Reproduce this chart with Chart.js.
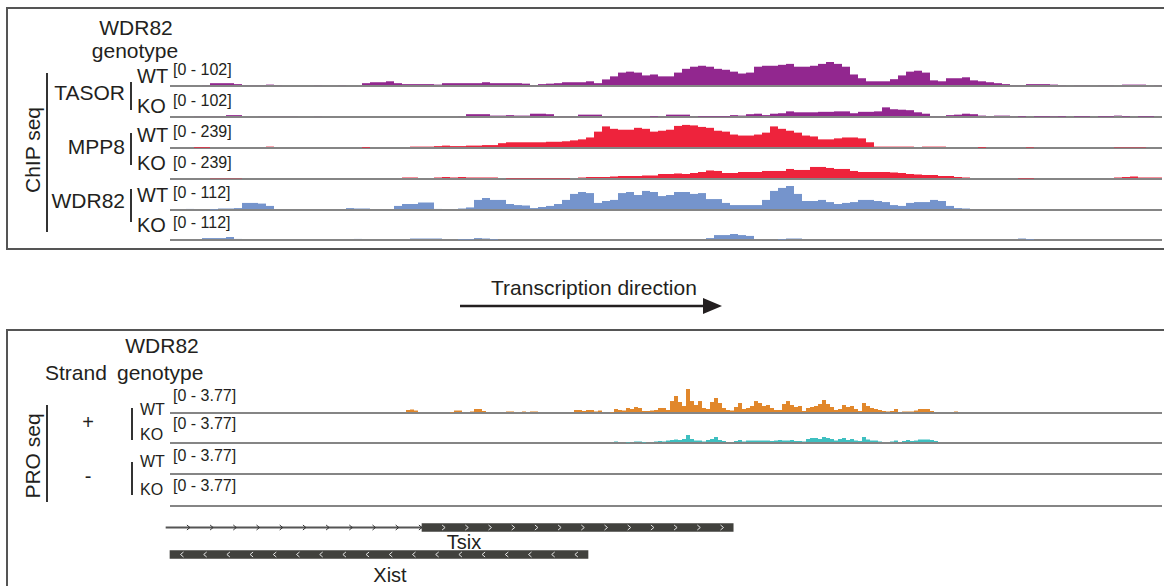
<!DOCTYPE html>
<html>
<head>
<meta charset="utf-8">
<script src="https://cdn.jsdelivr.net/npm/chart.js@4.4.1/dist/chart.umd.min.js"></script>
<style>
  body { margin: 0; width: 1164px; height: 586px; position: relative; overflow: hidden; background: #fff;
         font-family: "Liberation Sans", Arial, sans-serif; color: #231f20; }
  .t { position: absolute; white-space: nowrap; line-height: 1; }
  .c { text-align: center; width: 200px; }
  .r { text-align: right; width: 120px; }
  .box { position: absolute; border: 2px solid #555; }
  .vbar { position: absolute; width: 1.5px; background: #333; }
  canvas { position: absolute; }
</style>
</head>
<body>

<div class="box" style="left:6px;top:7px;width:1300px;height:239px"></div>
<div class="box" style="left:6px;top:329px;width:1300px;height:300px"></div>

<!-- ChIP seq labels -->
<div class="t c" style="left:36px;top:17px;font-size:21px">WDR82</div>
<div class="t c" style="left:35px;top:40px;font-size:21px">genotype</div>
<div class="t" style="left:32px;top:150px;font-size:21px;transform:translate(-50%,-50%) rotate(-90deg)">ChIP seq</div>
<div class="vbar" style="left:46px;top:73px;height:159px"></div>
<div class="t r" style="left:5px;top:82px;font-size:21px">TASOR</div>
<div class="t r" style="left:5px;top:136px;font-size:21px">MPP8</div>
<div class="t r" style="left:5px;top:190px;font-size:21px">WDR82</div>
<div class="vbar" style="left:130px;top:82px;height:28px"></div>
<div class="vbar" style="left:130px;top:133px;height:32px"></div>
<div class="vbar" style="left:130px;top:189px;height:33px"></div>
<div id="chipLabels"></div>

<!-- Transcription direction -->
<div class="t c" style="left:491px;top:277px;font-size:21px">Transcription direction</div>
<svg style="position:absolute;left:0;top:0" width="1164" height="586">
  <line x1="460" y1="306" x2="706" y2="306" stroke="#231f20" stroke-width="2.5"/>
  <polygon points="703,298 722,306 703,314" fill="#231f20"/>
</svg>

<!-- PRO seq labels -->
<div class="t c" style="left:62px;top:335px;font-size:21px">WDR82</div>
<div class="t" style="left:45px;top:362px;font-size:21px">Strand</div>
<div class="t" style="left:117px;top:362px;font-size:21px">genotype</div>
<div class="t" style="left:32px;top:456px;font-size:21px;transform:translate(-50%,-50%) rotate(-90deg)">PRO seq</div>
<div class="vbar" style="left:46px;top:405px;height:97px"></div>
<div class="t c" style="left:-12px;top:412px;font-size:20px">+</div>
<div class="t c" style="left:-12px;top:466px;font-size:20px">-</div>
<div class="vbar" style="left:131px;top:408px;height:32px"></div>
<div class="vbar" style="left:131px;top:462px;height:33px"></div>
<div id="proLabels"></div>

<!-- gene labels -->
<div class="t c" style="left:364px;top:532px;font-size:20px">Tsix</div>
<div class="t c" style="left:290px;top:565px;font-size:20px">Xist</div>

<canvas id="chip0" width="996" height="28" style="left:170px;top:60px"></canvas>
<canvas id="chip1" width="996" height="28" style="left:170px;top:91px"></canvas>
<canvas id="chip2" width="996" height="28" style="left:170px;top:122px"></canvas>
<canvas id="chip3" width="996" height="28" style="left:170px;top:153px"></canvas>
<canvas id="chip4" width="996" height="28" style="left:170px;top:184px"></canvas>
<canvas id="chip5" width="996" height="28" style="left:170px;top:214px"></canvas>
<canvas id="pro0" width="996" height="28" style="left:170px;top:387px"></canvas>
<canvas id="pro1" width="996" height="28" style="left:170px;top:417px"></canvas>
<canvas id="pro2" width="996" height="28" style="left:170px;top:448px"></canvas>
<canvas id="pro3" width="996" height="28" style="left:170px;top:480px"></canvas>
<canvas id="genes" width="1000" height="54" style="left:162px;top:514px"></canvas>

<script>
// ChIP seq signal, 124 bins across the window
const tasorWT = [
  0,0,0,0,4,12,12,12,8,4,
  4,4,6,4,0,0,0,0,4,0,
  0,4,0,0,12,16,16,20,12,8,
  8,8,8,6,12,12,12,12,12,16,
  12,12,12,12,10,4,8,10,12,16,
  16,16,20,12,28,41,57,61,57,45,
  49,41,41,57,73,82,86,82,73,69,
  61,53,57,82,86,86,90,94,82,82,
  86,94,102,94,82,49,33,20,20,20,
  29,45,61,65,57,24,20,33,33,37,
  24,20,16,12,8,4,4,8,8,8,
  6,4,0,4,4,0,4,4,0,6,
  6,6,0,4];
const tasorKO = [
  0,0,0,4,4,4,4,8,8,0,
  0,4,4,4,4,4,0,0,4,0,
  0,0,0,0,0,0,0,0,0,0,
  0,0,0,0,0,0,4,12,12,12,
  6,6,8,6,6,14,14,12,4,4,
  4,10,10,10,4,4,4,4,4,4,
  2,4,10,10,10,4,2,2,2,2,
  8,6,12,14,8,14,16,24,20,20,
  20,22,22,24,24,16,22,22,24,41,
  33,31,29,20,14,4,4,8,10,14,
  12,6,4,6,6,4,2,0,2,2,
  3,2,0,2,2,0,2,2,6,2,
  0,2,2,0];
const mpp8WT = [
  0,0,0,3,3,0,0,0,0,0,
  0,0,14,10,0,0,0,0,0,0,
  0,0,0,0,3,0,0,0,0,0,
  14,14,14,19,24,19,19,24,24,29,
  29,48,57,57,57,57,57,62,62,67,
  76,86,105,163,215,191,182,182,201,191,
  163,172,182,220,230,225,210,201,172,163,
  134,124,124,134,153,215,191,172,153,124,
  115,86,86,96,105,105,96,57,14,14,
  14,14,14,10,14,14,14,10,0,0,
  0,3,0,0,0,0,0,5,0,0,
  0,0,0,0,0,0,0,0,6,6,
  6,6,0,0];
const mpp8KO = [
  0,0,0,0,0,7,7,7,7,0,
  0,0,10,0,0,0,0,0,0,0,
  0,0,0,0,0,0,0,0,0,15,
  15,10,10,15,20,15,20,15,15,15,
  15,10,5,5,5,5,5,5,5,5,
  10,15,20,20,20,25,30,30,30,35,
  35,50,50,55,50,60,70,85,80,60,
  60,70,70,70,80,80,80,100,90,90,
  120,120,110,100,100,80,70,70,70,70,
  65,60,50,45,40,40,30,30,20,15,
  0,0,0,0,10,10,5,5,0,0,
  10,10,10,0,0,0,0,10,15,20,
  25,15,15,15];
const wdr82WT = [
  0,0,5,0,0,2,7,7,9,33,
  33,30,19,0,0,0,0,0,0,0,
  0,0,9,7,7,0,0,0,19,28,
  28,35,35,5,0,0,7,12,47,56,
  47,47,28,23,21,9,14,19,28,47,
  75,84,79,33,42,47,79,84,70,89,
  84,65,70,84,84,75,79,51,51,33,
  23,23,23,23,47,89,103,112,75,42,
  42,47,37,28,33,37,47,47,42,37,
  23,19,33,37,37,47,42,19,9,7,
  0,0,0,0,0,0,0,0,0,0,
  0,0,0,0,0,0,0,0,0,0,
  0,0,0,0];
const wdr82KO = [
  0,0,0,0,9,9,9,14,5,0,
  0,0,0,0,0,0,0,0,0,0,
  0,0,0,5,0,0,0,0,0,0,
  7,7,7,7,0,0,2,2,9,7,
  2,0,0,0,0,0,0,0,0,0,
  0,0,0,0,0,0,0,0,0,0,
  0,0,0,0,0,0,0,9,23,23,
  28,23,19,0,0,0,2,7,7,0,
  0,0,0,0,0,0,0,0,0,0,
  0,0,0,0,0,0,0,0,0,0,
  0,0,0,0,0,0,7,2,0,0,
  0,0,0,0,0,0,0,0,0,0,
  0,0,0,0];

// PRO seq signal, 248 bins across the same window
const proPlusWT = [
  0,0,0,0,0,0,0,0,0,0,
  0,0,0,0,0,0,0,0,0,0,
  0,0,0,0,0,0,0,0.16,0,0,
  0,0,0,0,0,0,0,0,0,0.16,
  0,0,0,0,0,0,0,0,0,0,
  0,0,0,0,0,0,0,0,0,0.47,
  0.55,0.39,0,0,0,0,0,0,0,0.16,
  0.08,0.39,0.39,0,0,0.24,0.63,0.63,0.31,0,
  0,0.16,0,0,0.24,0.24,0.16,0,0.24,0.16,
  0.24,0.24,0,0,0,0,0,0,0,0,
  0.16,0.47,0.47,0.31,0.47,0.47,0.24,0.39,0,0,
  0.08,0.63,0.47,0.39,0.79,0.63,0.94,0.79,0.31,0.31,
  0.39,0.47,0.79,0.79,0.47,1.88,2.67,1.73,1.10,3.77,
  1.88,1.26,1.88,0.79,0.63,1.73,2.36,1.57,0.79,0.47,
  0.39,0.94,1.57,0.63,0.79,1.10,1.88,1.57,1.10,1.26,
  0.79,0.47,0.47,1.41,1.88,1.26,0.94,1.10,0.31,0.79,
  0.94,1.10,1.41,2.04,1.41,0.94,0.47,0.63,1.26,0.94,
  1.10,0.63,0.31,1.57,1.10,0.79,0.63,0.47,0.31,0.24,
  0.31,0.63,0.16,0.24,0.24,0.24,0.39,0.63,0.63,0.63,
  0.31,0,0,0,0,0,0.24,0,0,0,
  0,0,0,0,0,0,0,0,0,0,
  0,0,0,0,0,0,0,0,0,0,
  0,0,0,0,0,0,0,0,0,0,
  0,0,0,0,0,0,0,0,0,0,
  0,0,0,0,0,0,0,0];
const proPlusKO = [
  0,0,0,0,0,0,0,0,0,0,
  0,0,0,0,0,0,0,0,0,0,
  0,0,0,0,0,0,0,0,0,0,
  0,0,0,0,0,0,0,0,0,0,
  0,0,0,0,0,0,0,0,0,0,
  0,0,0,0,0,0,0,0,0,0,
  0,0,0,0,0,0,0,0,0,0,
  0,0,0,0,0,0,0,0,0,0,
  0,0,0,0,0,0,0,0,0,0,
  0,0,0,0,0,0,0,0,0,0,
  0,0,0,0,0,0,0.16,0.16,0,0,
  0,0.24,0.16,0,0.08,0.16,0.24,0.24,0.08,0,
  0,0.24,0.31,0.24,0.39,0.47,0.55,0.47,0.63,1.26,
  0.63,0.39,0.39,0.24,0.47,0.63,0.94,0.47,0.31,0,
  0,0.31,0.47,0.24,0.39,0.39,0.39,0.39,0.39,0.39,
  0.31,0.39,0.47,0.39,0.39,0.47,0.31,0.31,0.24,0.63,
  0.79,0.79,0.63,0.94,0.79,0.63,0.39,0.63,0.79,0.47,
  0.63,0.39,0.31,0.94,0.55,0.39,0.39,0.24,0,0,
  0.24,0.39,0.16,0.31,0.47,0.31,0.39,0.55,0.55,0.55,
  0.47,0.31,0.16,0.16,0,0,0.16,0.16,0,0,
  0,0,0,0,0,0,0,0,0,0,
  0,0,0,0,0,0,0,0,0,0,
  0,0,0,0,0,0,0,0,0,0,
  0,0,0,0,0,0,0,0,0,0,
  0,0,0,0,0,0,0,0];
const proMinusWT = [];
const proMinusKO = [];

const chipGenotypes = ['WT', 'KO', 'WT', 'KO', 'WT', 'KO'];
const chipRanges = [102, 102, 239, 239, 112, 112];
const proGenotypes = ['WT', 'KO', 'WT', 'KO'];
const proRanges = [3.77, 3.77, 3.77, 3.77];

// genes, in bin units of the ChIP window
const geneNames = ['Tsix', 'Xist'];
const geneStrands = ['+', '-'];
const geneStarts = [-0.5, 0];
const exonStarts = [31.5, 0];
const geneEnds = [70.4, 52.25];

const purple = '#92278f', red = '#ee233c', blue = '#7594cc', orange = '#e1872b', teal = '#3ebfc0';
const chipSeries = [tasorWT, tasorKO, mpp8WT, mpp8KO, wdr82WT, wdr82KO];
const chipColors = [purple, purple, red, red, blue, blue];
const proSeries = [proPlusWT, proPlusKO, proMinusWT, proMinusKO];
const proColors = [orange, teal, orange, teal];

const chipLabelTops = [66, 96, 125, 153, 185, 215];
const chipRangeTops = [62, 93, 124, 155, 185, 215];
const proLabelTops = [402, 427, 454, 482];
const proRangeTops = [388, 416, 448, 478];

function addLabel(parent, text, left, top, size) {
  const d = document.createElement('div');
  d.className = 't';
  d.style.left = left + 'px';
  d.style.top = top + 'px';
  d.style.fontSize = size + 'px';
  d.textContent = text;
  parent.appendChild(d);
}

const chipLab = document.getElementById('chipLabels');
chipGenotypes.forEach((g, i) => {
  addLabel(chipLab, g, 137, chipLabelTops[i], 20);
  addLabel(chipLab, '[0 - ' + chipRanges[i] + ']', 173, chipRangeTops[i], 16);
});
const proLab = document.getElementById('proLabels');
proGenotypes.forEach((g, i) => {
  addLabel(proLab, g, 140, proLabelTops[i], 16);
  addLabel(proLab, '[0 - ' + proRanges[i] + ']', 173, proRangeTops[i], 16);
});

function makeTrack(id, values, nBins, max, color) {
  new Chart(document.getElementById(id), {
    type: 'bar',
    data: {
      labels: Array.from({ length: nBins }, (_, i) => i),
      datasets: [{ data: values, backgroundColor: color, borderWidth: 0, inflateAmount: 0,
                   barPercentage: 1, categoryPercentage: 1 }]
    },
    options: {
      responsive: false,
      animation: false,
      devicePixelRatio: 1,
      layout: { padding: { top: 2, bottom: 2, left: 0, right: 4 } },
      plugins: { legend: { display: false }, tooltip: { enabled: false } },
      scales: {
        x: { display: false },
        y: {
          min: 0, max: max,
          ticks: { display: false },
          border: { display: false },
          grid: { drawTicks: false, color: '#858585', lineWidth: 2 },
          afterBuildTicks: axis => { axis.ticks = [{ value: 0 }]; }
        }
      }
    }
  });
}

chipSeries.forEach((s, i) => makeTrack('chip' + i, s, 124, chipRanges[i], chipColors[i]));
proSeries.forEach((s, i) => makeTrack('pro' + i, s, 248, proRanges[i], proColors[i]));

// strand chevrons along each gene
const chevrons = {
  id: 'chevrons',
  afterDatasetsDraw(chart) {
    const ctx = chart.ctx;
    const xs = chart.scales.x, ys = chart.scales.y;
    const pitch = 2.9;
    geneNames.forEach((name, g) => {
      const y = ys.getPixelForValue(g);
      const dir = geneStrands[g] === '+' ? 1 : -1;
      let p = geneStarts[g] + (dir > 0 ? 2.8 : 1.5);
      ctx.save();
      ctx.lineWidth = 1;
      while (p < geneEnds[g] - 0.5) {
        const x = xs.getPixelForValue(p);
        ctx.strokeStyle = p >= exonStarts[g] ? '#e6e6e6' : '#333';
        ctx.beginPath();
        ctx.moveTo(x - 1.5 * dir, y - 2.5);
        ctx.lineTo(x + 1.5 * dir, y);
        ctx.lineTo(x - 1.5 * dir, y + 2.5);
        ctx.stroke();
        p += pitch;
      }
      ctx.restore();
    });
  }
};

new Chart(document.getElementById('genes'), {
  type: 'bar',
  data: {
    labels: geneNames,
    datasets: [
      { data: geneNames.map((n, g) => exonStarts[g] > geneStarts[g] ? [geneStarts[g], exonStarts[g]] : null),
        backgroundColor: '#555', barThickness: 1.5, grouped: false },
      { data: geneNames.map((n, g) => [exonStarts[g], geneEnds[g]]),
        backgroundColor: '#41413d', barThickness: 8, grouped: false }
    ]
  },
  options: {
    indexAxis: 'y',
    responsive: false,
    animation: false,
    devicePixelRatio: 1,
    layout: { padding: 0 },
    plugins: { legend: { display: false }, tooltip: { enabled: false } },
    scales: {
      x: { type: 'linear', min: -1, max: 124, display: false },
      y: { display: false }
    }
  },
  plugins: [chevrons]
});
</script>
</body>
</html>
